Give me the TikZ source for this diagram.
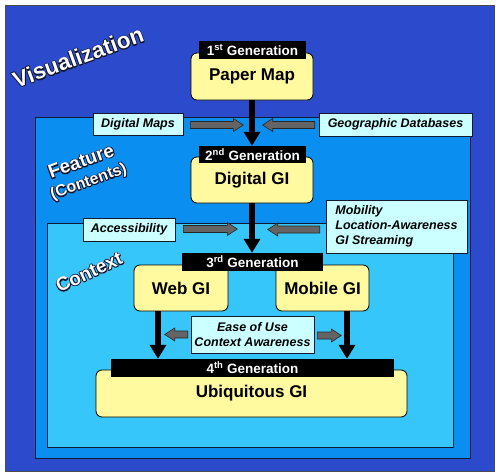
\documentclass[tikz,border=0pt]{standalone}
\usepackage{fontspec}
\setmainfont{Liberation Sans}
\usetikzlibrary{arrows.meta}
\definecolor{outerblue}{RGB}{44,74,204}
\definecolor{featblue}{RGB}{10,142,240}
\definecolor{ctxblue}{RGB}{54,198,250}
\definecolor{gipaper}{RGB}{255,250,160}
\definecolor{lblfill}{RGB}{204,255,255}
\definecolor{garrowfill}{RGB}{100,100,100}
\definecolor{edge}{RGB}{20,25,50}
\newcommand{\outlinedtext}[1]{\rlap{\special{pdf:literal direct 1 Tr 1.8 w 1 j 0.06 0.08 0.18 RG}#1\special{pdf:literal direct 0 Tr}}#1}
\tikzset{
  pics/garrowR/.style={code={
    \filldraw[fill=garrowfill, draw=black!85, line width=0.6pt]
      (0,-3.5) -- ({#1-10},-3.5) -- ({#1-10},-6.5) -- (#1,0) -- ({#1-10},6.5) -- ({#1-10},3.5) -- (0,3.5) -- cycle;
  }},
  pics/garrowL/.style={code={
    \filldraw[fill=garrowfill, draw=black!85, line width=0.6pt]
      (0,-3.5) -- ({-#1+10},-3.5) -- ({-#1+10},-6.5) -- (-#1,0) -- ({-#1+10},6.5) -- ({-#1+10},3.5) -- (0,3.5) -- cycle;
  }}
}
\begin{document}
\begin{tikzpicture}[x=1pt,y=1pt,
  region/.style={draw=edge, line width=1pt},
  gibox/.style={draw=black, fill=gipaper, rounded corners=6pt, line width=0.8pt, inner sep=0pt, font=\fontsize{17}{20}\selectfont\bfseries},
  genhdr/.style={fill=black, text=white, inner sep=0pt, font=\fontsize{13.5}{16}\selectfont\bfseries},
  lbl/.style={draw=edge, fill=lblfill, line width=0.6pt, inner sep=0pt, font=\fontsize{12.5}{15}\selectfont\bfseries\itshape},
  bigarrow/.style={line width=6pt, -{Triangle[width=16pt,length=14pt]}},
  areatitle/.style={text=white, inner sep=0pt}
]
\useasboundingbox (0,0) rectangle (500,475);
\fill[white] (0,0) rectangle (500,475);
% regions
\filldraw[fill=outerblue, draw=gray!60!black, line width=1pt] (5,4) rectangle (494,469);
\filldraw[region, fill=featblue] (35,17) rectangle (470,358);
\filldraw[region, fill=ctxblue] (47,28) rectangle (453,252);
% region titles
\node[areatitle, rotate=20, font=\fontsize{22.5}{24}\selectfont\bfseries] (tvis) at (78,418) {\outlinedtext{Visualization}};
\node[areatitle, rotate=20, align=center, font=\fontsize{19}{20}\selectfont\bfseries] (tfeat) at (85,303) {\outlinedtext{Feature}\\{\fontsize{16}{18}\selectfont\outlinedtext{(Contents)}}};
\node[areatitle, rotate=25, font=\fontsize{19}{21}\selectfont\bfseries] (tctx) at (89,203) {\outlinedtext{Context}};
% GI boxes
\node[gibox, minimum width=122pt, minimum height=47pt] (pm) at (252,398.5) {Paper Map};
\node[genhdr, minimum width=107pt, minimum height=18pt] (h1) at (252.5,425) {1\textsuperscript{st} Generation};
\node[gibox, minimum width=122pt, minimum height=46pt] (dg) at (252,295) {Digital GI};
\node[genhdr, minimum width=107pt, minimum height=17pt] (h2) at (252.5,320.5) {2\textsuperscript{nd} Generation};
\node[gibox, minimum width=94pt, minimum height=46pt] (web) at (181,187) {Web GI};
\node[gibox, minimum width=93pt, minimum height=46pt] (mob) at (322.5,187) {Mobile GI};
\node[genhdr, minimum width=141pt, minimum height=18pt] (h3) at (252.5,213) {3\textsuperscript{rd} Generation};
\node[gibox, minimum width=311pt, minimum height=47pt] (ubi) at (251.5,81.5) {Ubiquitous GI};
\node[genhdr, minimum width=283pt, minimum height=18pt] (h4) at (252.5,107) {4\textsuperscript{th} Generation};
% labels
\node[lbl, minimum width=90pt, minimum height=22pt] (dm) at (138,351) {Digital Maps};
\node[lbl, minimum width=153pt, minimum height=23pt] (gd) at (395.5,350.5) {Geographic Databases};
\node[lbl, minimum width=92pt, minimum height=23pt] (acc) at (129,245.5) {Accessibility};
\node[lbl, minimum width=141pt, minimum height=53pt, align=left] (mobl) at (396.5,248.5) {Mobility\\Location-Awareness\\GI Streaming\hphantom{ness}};
\node[lbl, minimum width=123pt, minimum height=37pt, align=center] (ease) at (252.5,140.5) {Ease of Use\\Context Awareness};
% black arrows
\draw[bigarrow] (pm.south) -- (pm.south |- h2.north);
\draw[bigarrow] (dg.south) -- (dg.south |- h3.north);
\draw[bigarrow] ([xshift=-23pt]web.south) -- ([xshift=-23pt]web.south |- h4.north);
\draw[bigarrow] ([xshift=24.5pt]mob.south) -- ([xshift=24.5pt]mob.south |- h4.north);
% gray arrows
\pic at ([xshift=7pt,yshift=-1pt]dm.east) {garrowR=53};
\pic at ([xshift=-4pt,yshift=-0.5pt]gd.west) {garrowL=52};
\pic at ([xshift=8pt,yshift=0.5pt]acc.east) {garrowR=54};
\pic at ([xshift=-6pt]mobl.west |- acc.east) {garrowL=52};
\pic at ([xshift=-3pt]ease.west) {garrowL=23};
\pic at ([xshift=3pt,yshift=-1pt]ease.east) {garrowR=24};
\end{tikzpicture}
\end{document}
